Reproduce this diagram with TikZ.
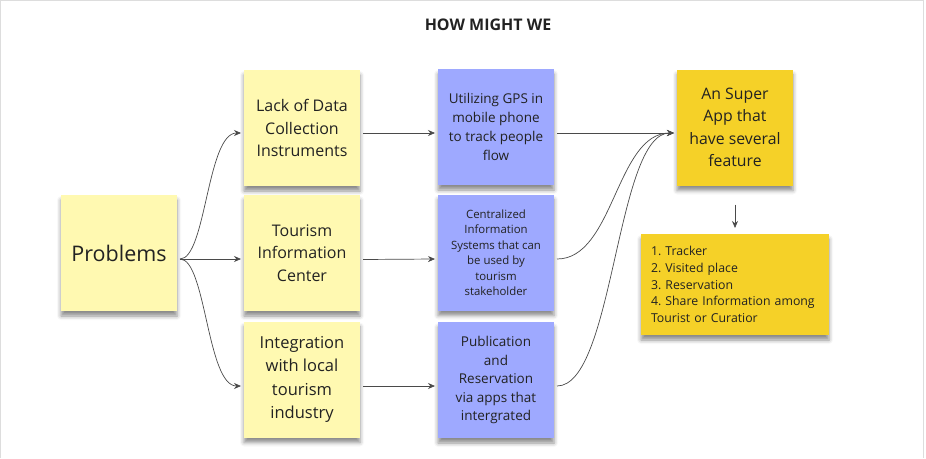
\documentclass[tikz,border=0pt]{standalone}
\usepackage{fontspec}
\setmainfont{Open Sans}
\usetikzlibrary{arrows.meta,positioning,shadows.blur}

\definecolor{paleyellow}{HTML}{FFF9B1}
\definecolor{noteblue}{HTML}{9EA9FF}
\definecolor{noteyellow}{HTML}{F5D128}
\definecolor{inkgray}{HTML}{222222}
\definecolor{linegray}{HTML}{4A4A4A}
\definecolor{framegray}{HTML}{DDDDDD}

\tikzset{
    note/.style={minimum width=116pt, minimum height=116pt, inner sep=0pt,
        outer sep=3pt, align=center, text=inkgray,
        blur shadow={shadow xshift=0pt, shadow yshift=-5pt, shadow opacity=45,
            shadow blur radius=4pt}},
    pale/.style={note, fill=paleyellow, font=\fontsize{16}{22.5}\selectfont},
    violet/.style={note, fill=noteblue, font=\fontsize{13.5}{19}\selectfont},
    gold/.style={note, fill=noteyellow, font=\fontsize{15.8}{22.5}\selectfont},
    link/.style={draw=linegray, line width=0.7pt, -{Stealth[length=7pt,width=6pt]}}
}

\begin{document}
\frenchspacing
\begin{tikzpicture}[x=1pt, y=-1pt]
        \useasboundingbox (0,0) rectangle (926,458);
        \draw[framegray] (0.5,458) -- (0.5,0.5) -- (923.5,0.5) -- (923.5,458);

        \node[font=\bfseries\fontsize{16}{18}\selectfont, text=inkgray] (title) at (488,25) {HOW MIGHT WE};

        % problems and causes
        \node[pale, font=\fontsize{21.5}{24}\selectfont] (prob) at (119,253) {Problems};
        \node[pale] (lack) at (302,128) {Lack of Data\\Collection\\Instruments};
        \node[pale] (tic) at (302,253) {Tourism\\Information\\Center};
        \node[pale, font=\fontsize{16.5}{23.5}\selectfont] (integ) at (302,379.5) {Integration\\with local\\tourism\\industry};

        % ideas
        \node[violet] (gps) at (496,127) {Utilizing GPS in\\mobile phone\\to track people\\flow};
        \node[violet, font=\fontsize{11.4}{15.5}\selectfont] (central) at (496,252.5) {Centralized\\Information\\Systems that can\\be used by\\tourism\\stakeholder};
        \node[violet, font=\fontsize{13.5}{18.5}\selectfont] (pub) at (496,380) {Publication\\and\\Reservation\\via apps that\\intergrated};

        % solution
        \node[gold] (app) at (735,127.5) {An Super\\App that\\have several\\feature};
        \node[gold, minimum width=188pt, minimum height=101pt, text width=168pt, align=left,
            font=\fontsize{12.3}{16.6}\selectfont] (feat) at (735,284.5)
            {1. Tracker\\2. Visited place\\3. Reservation\\4. Share Information among\\Tourist or Curatior};

        \coordinate (fork) at ([yshift=-6pt]prob.east);
        \draw[link] (fork) -- ([yshift=-6pt]tic.west);
        \draw[link] (fork) .. controls +(26,0) and +(-34,0) .. ([yshift=-5pt]lack.west);
        \draw[link] (fork) .. controls +(26,0) and +(-34,0) .. ([yshift=-6.5pt]integ.west);

        \draw[link] ([yshift=-5pt]lack.east) -- ([yshift=-6pt]gps.west);
        \draw[link] ([yshift=-6.5pt]tic.east) -- ([yshift=-6.5pt]central.west);
        \draw[link] ([yshift=-6.5pt]integ.east) -- ([yshift=-6pt]pub.west);

        \draw[link] ([yshift=-6pt]gps.east) -- ([yshift=-5.5pt]app.west);
        \draw[link] ([yshift=-6.5pt]central.east) .. controls +(57,0) and +(-58,0) .. ([yshift=-5.5pt]app.west);
        \draw[link] ([yshift=-6pt]pub.east) .. controls +(57,0) and +(-58,0) .. ([yshift=-5.5pt]app.west);

        \draw[link, shorten <=16pt, shorten >=3pt] (app.south) -- (feat.north);
\end{tikzpicture}
\end{document}
